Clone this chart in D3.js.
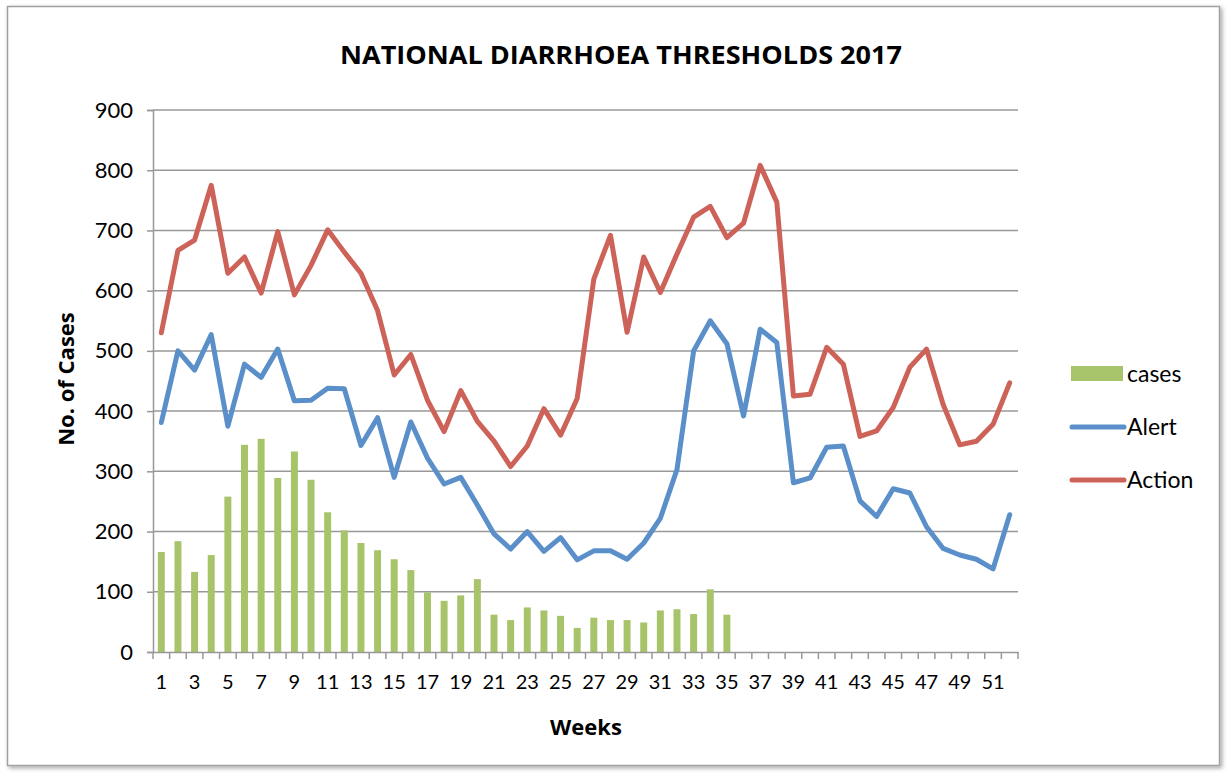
<!DOCTYPE html>
<html>
<head>
  <meta charset="utf-8">
  <style>
    body { margin: 0; background: #fff; }
    svg text { font-family: Lato, "Open Sans", sans-serif; fill: #000; }
    svg text.bold { font-family: "Open Sans", sans-serif; font-weight: bold; }
  </style>
</head>
<body>
  <div id="chart"></div>
  <script src="https://d3js.org/d3.v7.min.js"></script>
  <script>

    // DATA
    var weeks = d3.range(1, 53);

    var cases = [166, 184, 133, 161, 258, 344, 354, 289, 333, 286,
                 232, 202, 181, 169, 154, 136, 99, 85, 94, 121,
                 62, 53, 74, 69, 60, 40, 57, 53, 53, 49,
                 69, 71, 63, 104, 62];

    var alert = [381, 500, 468, 527, 375, 478, 456, 503, 417, 418,
                 438, 437, 343, 389, 290, 382, 322, 279, 290, 244,
                 196, 171, 200, 167, 190, 153, 168, 168, 154, 181,
                 222, 303, 500, 550, 512, 392, 536, 514, 281, 289,
                 340, 342, 251, 225, 271, 264, 208, 172, 161, 154,
                 138, 228];

    var action = [530, 667, 684, 775, 629, 656, 596, 698, 593, 642,
                  701, 664, 629, 567, 460, 494, 418, 366, 434, 383,
                  350, 308, 342, 404, 360, 421, 619, 692, 531, 656,
                  597, 661, 722, 740, 688, 712, 808, 747, 425, 428,
                  506, 478, 358, 367, 406, 473, 503, 411, 344, 350,
                  378, 447];

    var yTicks = [0, 100, 200, 300, 400, 500, 600, 700, 800, 900];

    var legendItems = [
      { name: 'cases', type: 'bar', color: '#a8c46b' },
      { name: 'Alert', type: 'line', color: '#5b8fc9' },
      { name: 'Action', type: 'line', color: '#cd6259' }
    ];

    // LAYOUT
    var width = 1229;
    var height = 774;

    var plot = { left: 153, right: 1018, top: 110, bottom: 652 };

    var svg = d3.select('#chart')
      .append('svg')
        .attr('width', width)
        .attr('height', height);

    // frame with a soft shadow
    var defs = svg.append('defs');
    var shadow = defs.append('filter')
      .attr('id', 'shadow')
      .attr('x', '-5%').attr('y', '-5%')
      .attr('width', '110%').attr('height', '110%');
    shadow.append('feDropShadow')
      .attr('dx', 2).attr('dy', 2)
      .attr('stdDeviation', 2)
      .attr('flood-color', '#000')
      .attr('flood-opacity', 0.35);

    svg.append('rect')
      .attr('x', 7.5).attr('y', 6.5)
      .attr('width', 1212).attr('height', 759)
      .attr('fill', '#fff')
      .attr('stroke', '#a0a0a0')
      .attr('stroke-width', 1.5)
      .attr('filter', 'url(#shadow)');

    var x = d3.scaleBand()
      .domain(weeks)
      .range([plot.left, plot.right]);

    var y = d3.scaleLinear()
      .domain([0, 900])
      .range([plot.bottom, plot.top]);

    // gridlines
    svg.append('g')
      .selectAll('line')
      .data(yTicks.filter(d => d > 0))
      .enter()
        .append('line')
          .attr('x1', plot.left)
          .attr('x2', plot.right)
          .attr('y1', d => y(d))
          .attr('y2', d => y(d))
          .attr('stroke', '#989898')
          .attr('stroke-width', 1.5);

    // y axis
    var yAxis = svg.append('g')
      .attr('transform', `translate(${plot.left},0)`)
      .call(d3.axisLeft(y).tickValues(yTicks).tickSize(6).tickPadding(14));

    yAxis.select('.domain').attr('stroke', '#989898').attr('stroke-width', 1.5);
    yAxis.selectAll('.tick line').attr('stroke', '#989898').attr('stroke-width', 1.5);
    yAxis.selectAll('.tick text')
      .style('font-size', '22px')
      .attr('fill', '#000');

    // bars
    var barW = x.bandwidth() * 0.42;

    svg.append('g')
      .selectAll('rect')
      .data(cases)
      .enter()
        .append('rect')
          .attr('x', (d, i) => x(weeks[i]) + (x.bandwidth() - barW) / 2)
          .attr('y', d => y(d))
          .attr('width', barW)
          .attr('height', d => y(0) - y(d))
          .attr('fill', legendItems[0].color);

    // x axis
    var xAxis = svg.append('g')
      .attr('transform', `translate(0,${plot.bottom})`)
      .call(d3.axisBottom(x).tickSize(0).tickPadding(23)
        .tickFormat(d => d % 2 === 1 ? d : ''));

    xAxis.select('.domain').attr('stroke', '#989898').attr('stroke-width', 1.5);
    xAxis.selectAll('.tick text').style('font-size', '20px').attr('fill', '#000');

    // tick marks sit between categories
    svg.append('g')
      .selectAll('line')
      .data(weeks.concat([null]))
      .enter()
        .append('line')
          .attr('x1', (d, i) => plot.left + i * x.step())
          .attr('x2', (d, i) => plot.left + i * x.step())
          .attr('y1', plot.bottom)
          .attr('y2', plot.bottom + 7)
          .attr('stroke', '#989898')
          .attr('stroke-width', 1.5);

    // lines
    var line = d3.line()
      .x((d, i) => x(weeks[i]) + x.bandwidth() / 2)
      .y(d => y(d));

    [[alert, legendItems[1].color], [action, legendItems[2].color]].forEach(function(s) {
      svg.append('path')
        .datum(s[0])
        .attr('d', line)
        .attr('fill', 'none')
        .attr('stroke', s[1])
        .attr('stroke-width', 5)
        .attr('stroke-linejoin', 'round')
        .attr('stroke-linecap', 'round');
    });

    // titles
    svg.append('text')
      .attr('class', 'bold')
      .attr('x', 621)
      .attr('y', 64)
      .attr('text-anchor', 'middle')
      .attr('textLength', 562)
      .attr('lengthAdjust', 'spacingAndGlyphs')
      .style('font-size', '25px')
      .text('NATIONAL DIARRHOEA THRESHOLDS 2017');

    svg.append('text')
      .attr('class', 'bold')
      .attr('x', 586)
      .attr('y', 735)
      .attr('text-anchor', 'middle')
      .style('font-size', '22px')
      .text('Weeks');

    svg.append('text')
      .attr('class', 'bold')
      .attr('transform', 'translate(74,379) rotate(-90)')
      .attr('text-anchor', 'middle')
      .style('font-size', '22px')
      .text('No. of Cases');

    // legend
    var legend = svg.append('g')
      .selectAll('g')
      .data(legendItems)
      .enter()
        .append('g')
          .attr('transform', (d, i) => `translate(1071,${374 + i * 53})`);

    legend.filter(d => d.type === 'bar')
      .append('rect')
        .attr('x', 0).attr('y', -8)
        .attr('width', 52).attr('height', 15)
        .attr('fill', d => d.color);

    legend.filter(d => d.type === 'line')
      .append('line')
        .attr('x1', 1).attr('x2', 53)
        .attr('y1', 0).attr('y2', 0)
        .attr('stroke', d => d.color)
        .attr('stroke-width', 5)
        .attr('stroke-linecap', 'round');

    legend.append('text')
      .attr('x', 56)
      .attr('y', 0)
      .attr('dy', '0.36em')
      .style('font-size', '23px')
      .text(d => d.name);

  </script>
</body>
</html>
